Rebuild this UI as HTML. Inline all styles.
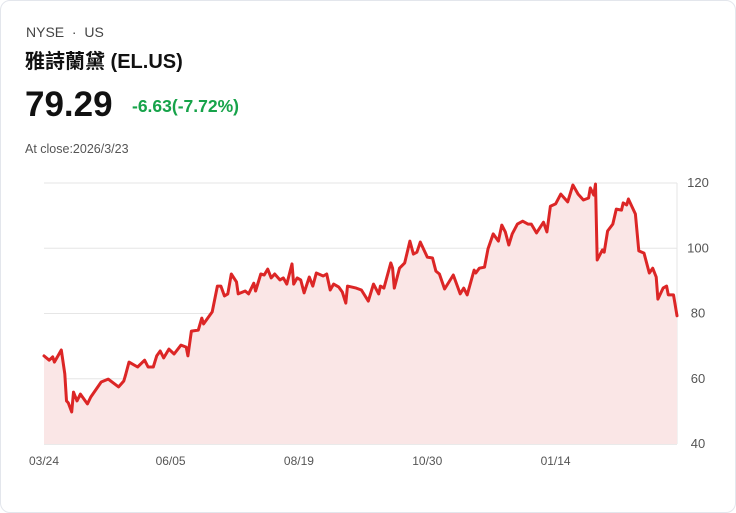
<!DOCTYPE html>
<html><head><meta charset="utf-8"><style>
body{margin:0;background:#fff;font-family:"Liberation Sans","Noto Sans CJK TC",sans-serif;}
#card{position:absolute;left:0;top:0;width:734px;height:511px;border:1px solid #e3e6ec;border-radius:10px;background:#fff;overflow:hidden}
.t{position:absolute;white-space:nowrap}
</style></head><body>
<div id="card">
<div class="t" style="left:25px;top:23px;font-size:14px;color:#444">NYSE &nbsp;·&nbsp; US</div>
<div class="t" style="left:24px;top:44px;font-size:20px;font-weight:bold;color:#111">雅詩蘭黛 (EL.US)</div>
<div class="t" style="left:24px;top:84px;font-size:35px;font-weight:bold;color:#111">79.29</div>
<div class="t" style="left:131px;top:95px;font-size:17.5px;font-weight:bold;color:#17a34a">-6.63(-7.72%)</div>
<div class="t" style="left:24px;top:141px;font-size:12.5px;color:#555">At close:2026/3/23</div>
<svg id="chart" width="736" height="513" style="position:absolute;left:-1px;top:-1px"></svg>
</div>
<script>
const days=[0,3,5,6,10,12,13,14,16,17,19,21,25,27,33,37,43,46,47,49,54,58,60,63,65,67,69,72,75,79,82,83,85,89,91,92,97,100,102,104,106,108,111,112,116,118,121,122,125,127,129,131,133,136,138,140,143,144,146,148,150,153,155,157,161,163,165,167,170,172,174,175,180,183,187,190,193,194,196,200,201,202,205,208,211,213,215,217,221,224,226,228,231,236,240,242,244,248,249,251,254,256,259,262,264,266,268,270,273,276,279,281,284,288,290,292,295,298,302,305,308,311,314,315,317,318,319,322,323,325,328,330,333,334,336,337,341,343,346,349,351,353,354,357,359,360,363,365];
const prices=[67.0,65.7,66.7,65.1,68.8,61.5,53.2,52.6,49.8,55.9,53.2,55.3,52.3,54.4,59.0,59.9,57.5,59.3,61.1,65.1,63.6,65.7,63.6,63.6,67.0,68.5,66.4,69.1,67.6,70.3,69.7,67.0,74.6,74.9,78.6,76.8,80.5,88.4,88.4,85.4,86.0,92.1,89.7,86.0,86.9,86.0,89.3,86.9,92.1,91.8,93.6,90.9,92.1,90.3,90.9,89.0,95.2,89.0,90.9,90.3,86.3,91.2,88.4,92.4,91.5,92.1,87.2,89.0,88.1,86.6,83.2,88.4,87.8,87.2,83.8,89.0,86.0,88.4,87.8,95.5,93.9,87.8,93.9,95.5,102.2,98.2,98.8,101.9,97.3,97.0,93.0,92.1,87.5,91.8,86.0,87.8,85.7,93.3,92.4,93.9,94.2,99.8,104.4,102.2,107.1,105.0,101.0,104.4,107.4,108.3,107.4,107.4,104.7,108.0,105.0,112.9,113.6,116.6,114.2,119.4,116.6,114.8,115.4,118.5,116.3,119.7,96.4,99.5,98.8,105.3,107.4,112.0,111.7,113.9,113.3,115.1,110.5,99.2,98.5,92.4,93.9,91.2,84.4,87.8,88.4,85.7,85.7,79.29];
const yTicks=[40,60,80,100,120];
const xTickDays=[0,73,147,221,295];
const xTickLabels=["03/24","06/05","08/19","10/30","01/14"];
const X0=44,X1=677,Y0=444,Y1=183,DMAX=365,VMIN=40,VMAX=120;
const sx=d=>X0+d*(X1-X0)/DMAX, sy=v=>Y0-(v-VMIN)*(Y0-Y1)/(VMAX-VMIN);
const svg=document.getElementById('chart'),NS='http://www.w3.org/2000/svg';
function mk(t,a){const e=document.createElementNS(NS,t);for(const k in a)e.setAttribute(k,a[k]);svg.appendChild(e);return e;}
yTicks.forEach(v=>{
 const l=mk('line',{x1:X0,x2:X1,y1:sy(v),y2:sy(v),stroke:v===40?'#d4d4d4':'#e6e6e6','stroke-width':1});
 
 
 const t=mk('text',{x:X1+21,y:sy(v)+4,'font-size':13,fill:'#555','text-anchor':'middle','font-family':'Liberation Sans'});
 t.textContent=v;
 
 
});
const vl=mk('line',{x1:X1,x2:X1,y1:Y1,y2:Y0,stroke:'#e6e6e6'});


xTickDays.forEach((d,i)=>{
 const t=mk('text',{x:sx(d),y:465,'font-size':12,fill:'#555','text-anchor':'middle','font-family':'Liberation Sans'});
 t.textContent=xTickLabels[i];
 
 
});
let p=days.map((d,i)=>(i?'L':'M')+sx(d).toFixed(1)+','+sy(prices[i]).toFixed(1)).join('');
const area=mk('path',{d:p+'L'+sx(days[days.length-1])+','+Y0+'L'+sx(days[0])+','+Y0+'Z',fill:'#fae6e6'});


const line=mk('path',{d:p,fill:'none',stroke:'#dc2626','stroke-width':3,'stroke-linejoin':'round','stroke-linecap':'round'});


</script>
</body></html>
